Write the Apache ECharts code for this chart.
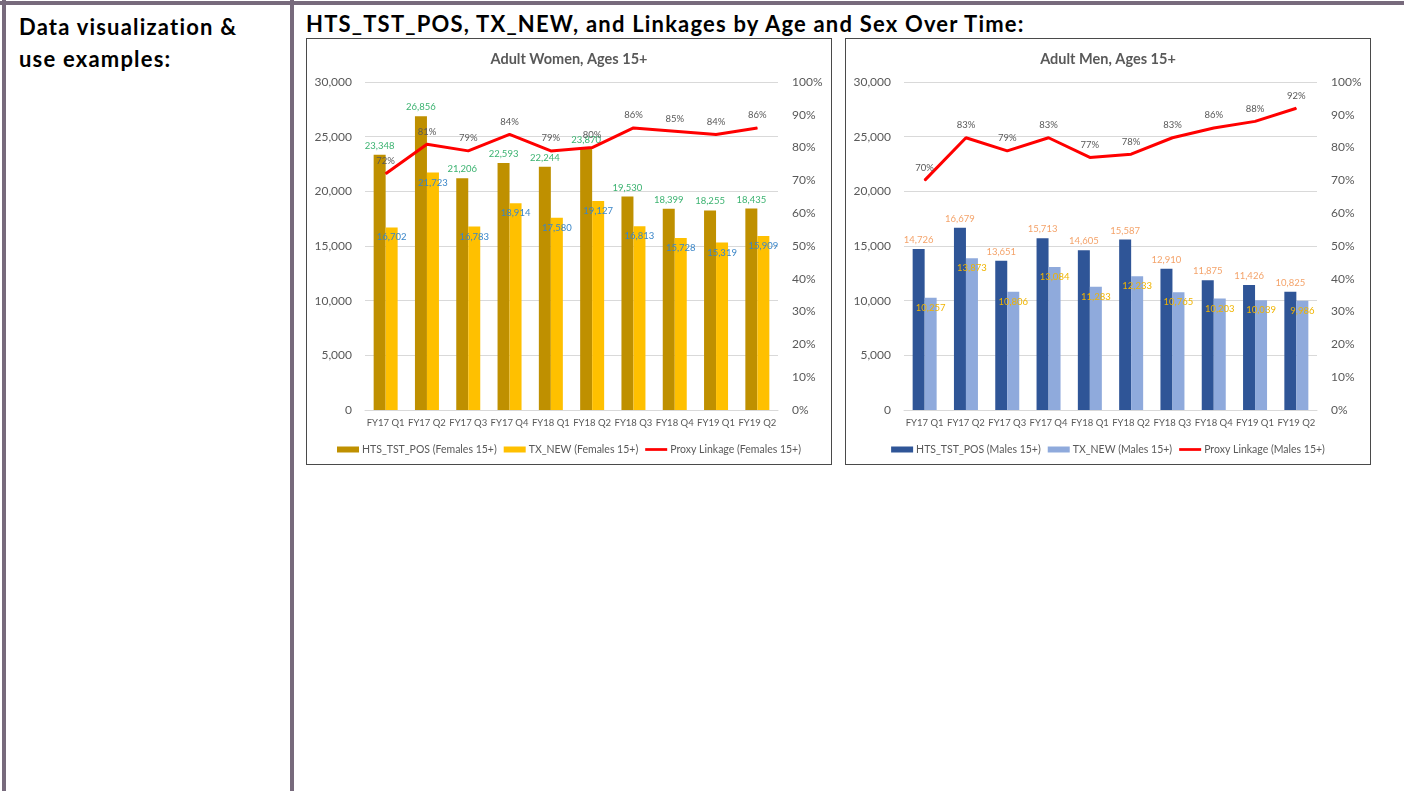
<!DOCTYPE html>
<html>
<head>
<meta charset="utf-8">
<title>HTS_TST_POS, TX_NEW, and Linkages by Age and Sex Over Time</title>
<script src="https://cdn.jsdelivr.net/npm/echarts@6/dist/echarts.min.js"></script>
<style>
  html, body { margin: 0; padding: 0; background: #fff; }
  body { width: 1404px; height: 791px; position: relative; overflow: hidden; font-family: Lato, "Noto Sans", sans-serif; }
  .rule { position: absolute; background: #776a7c; }
  .label-cell { position: absolute; left: 19px; top: 11px; font-weight: 700; font-size: 22px; letter-spacing: 1.2px; line-height: 32px; color: #000; }
  .heading { position: absolute; left: 306px; top: 11px; font-weight: 700; font-size: 22px; letter-spacing: 1.2px; line-height: 26px; color: #000; white-space: nowrap; }
  .frame { position: absolute; top: 38px; width: 524px; height: 425px; border: 1px solid #4a4a4a; }
  .frame > div { width: 524px; height: 425px; }
</style>
</head>
<body>
<div class="rule" style="left:0;top:1px;width:1404px;height:4px"></div>
<div class="rule" style="left:2px;top:0;width:4px;height:791px"></div>
<div class="rule" style="left:290px;top:0;width:4px;height:791px"></div>

<div class="label-cell">Data visualization &amp;<br>use examples:</div>
<div class="heading">HTS_TST_POS, TX_NEW, and Linkages by Age and Sex Over Time:</div>

<div class="frame" style="left:306px"><div id="women"></div></div>
<div class="frame" style="left:845px"><div id="men"></div></div>

<script>
// Reporting quarters on the category axis
const quarters = ['FY17 Q1', 'FY17 Q2', 'FY17 Q3', 'FY17 Q4', 'FY18 Q1',
                  'FY18 Q2', 'FY18 Q3', 'FY18 Q4', 'FY19 Q1', 'FY19 Q2'];

// Adult women, ages 15+
const womenTestedPositive = [23348, 26856, 21206, 22593, 22244, 23870, 19530, 18399, 18255, 18435];
const womenNewOnTreatment = [16702, 21723, 16783, 18914, 17580, 19127, 16813, 15728, 15319, 15909];
const womenLinkagePct     = [72, 81, 79, 84, 79, 80, 86, 85, 84, 86];

// Adult men, ages 15+
const menTestedPositive = [14726, 16679, 13651, 15713, 14605, 15587, 12910, 11875, 11426, 10825];
const menNewOnTreatment = [10257, 13873, 10806, 13084, 11283, 12233, 10765, 10203, 10039, 9986];
const menLinkagePct     = [70, 83, 79, 83, 77, 78, 83, 86, 88, 92];

// Axis ranges: [min, max, step]
const countAxis   = [0, 30000, 5000];
const percentAxis = [0, 100, 10];

const FONT = 'Lato';
const GREY = '#595959';

function fmtCount(v) { return Number(v).toLocaleString('en-US'); }

function buildOption(cfg) {
  return {
    animation: false,
    backgroundColor: '#ffffff',
    textStyle: { fontFamily: FONT },
    title: {
      text: cfg.title,
      left: 'center',
      top: 8,
      textStyle: { fontFamily: FONT, fontSize: 14.5, fontWeight: 'bold', color: GREY }
    },
    grid: { left: 58, top: 43, width: 413, height: 328, containLabel: false },
    legend: {
      left: 'center',
      top: 400,
      itemWidth: 22,
      itemHeight: 6,
      itemGap: 7,
      textStyle: { fontFamily: FONT, fontSize: 10.5, color: GREY, padding: [0, 0, 0, -2] },
      data: [
        { name: cfg.names[0], icon: 'rect' },
        { name: cfg.names[1], icon: 'rect' },
        { name: cfg.names[2], icon: 'path://M0 0H24V3H0Z' }
      ]
    },
    xAxis: {
      type: 'category',
      data: quarters,
      axisTick: { show: false },
      axisLine: { lineStyle: { color: '#d9d9d9', width: 1 } },
      axisLabel: { fontFamily: FONT, fontSize: 9.5, color: GREY, margin: 8, interval: 0 }
    },
    yAxis: [
      {
        type: 'value',
        min: countAxis[0], max: countAxis[1], interval: countAxis[2],
        axisLine: { show: false },
        axisTick: { show: false },
        splitLine: { lineStyle: { color: '#d9d9d9', width: 1 } },
        axisLabel: { fontFamily: FONT, fontSize: 12, color: GREY, margin: 13, formatter: fmtCount }
      },
      {
        type: 'value',
        position: 'right',
        min: percentAxis[0], max: percentAxis[1], interval: percentAxis[2],
        axisLine: { show: false },
        axisTick: { show: false },
        splitLine: { show: false },
        axisLabel: { fontFamily: FONT, fontSize: 12, color: GREY, margin: 14, formatter: '{value}%' }
      }
    ],
    series: [
      {
        name: cfg.names[0],
        type: 'bar',
        data: cfg.tested,
        barWidth: 12,
        barGap: '0%',
        itemStyle: { color: cfg.barColors[0] },
        label: {
          show: true, position: 'top', distance: 4,
          fontFamily: FONT, fontSize: 9.5, color: cfg.labelColors[0],
          formatter: p => fmtCount(p.value)
        },
        z: 2
      },
      {
        name: cfg.names[1],
        type: 'bar',
        data: cfg.newOnTx,
        barWidth: 12,
        itemStyle: { color: cfg.barColors[1] },
        label: {
          show: true, position: 'insideTop', distance: 5,
          fontFamily: FONT, fontSize: 9.5, color: cfg.labelColors[1],
          formatter: p => fmtCount(p.value)
        },
        z: 2
      },
      {
        name: cfg.names[2],
        type: 'line',
        yAxisIndex: 1,
        data: cfg.linkage,
        showSymbol: true,
        symbol: 'circle',
        symbolSize: 1,
        lineStyle: { color: '#ff0000', width: 3 },
        itemStyle: { color: '#ff0000' },
        label: {
          show: true, position: 'top', distance: 7,
          fontFamily: FONT, fontSize: 9.5, color: GREY,
          formatter: '{c}%'
        },
        labelLayout: { hideOverlap: false },
        z: 5
      }
    ]
  };
}

const womenChart = echarts.init(document.getElementById('women'), null, { renderer: 'canvas' });
womenChart.setOption(buildOption({
  title: 'Adult Women, Ages 15+',
  names: ['HTS_TST_POS (Females 15+)', 'TX_NEW (Females 15+)', 'Proxy Linkage (Females 15+)'],
  tested: womenTestedPositive,
  newOnTx: womenNewOnTreatment,
  linkage: womenLinkagePct,
  barColors: ['#bf9000', '#ffc000'],
  labelColors: ['#3cb371', '#3a86c8']
}));

const menChart = echarts.init(document.getElementById('men'), null, { renderer: 'canvas' });
menChart.setOption(buildOption({
  title: 'Adult Men, Ages 15+',
  names: ['HTS_TST_POS (Males 15+)', 'TX_NEW (Males 15+)', 'Proxy Linkage (Males 15+)'],
  tested: menTestedPositive,
  newOnTx: menNewOnTreatment,
  linkage: menLinkagePct,
  barColors: ['#2f5597', '#8faadc'],
  labelColors: ['#f4a36a', '#f0b400']
}));
</script>
</body>
</html>
